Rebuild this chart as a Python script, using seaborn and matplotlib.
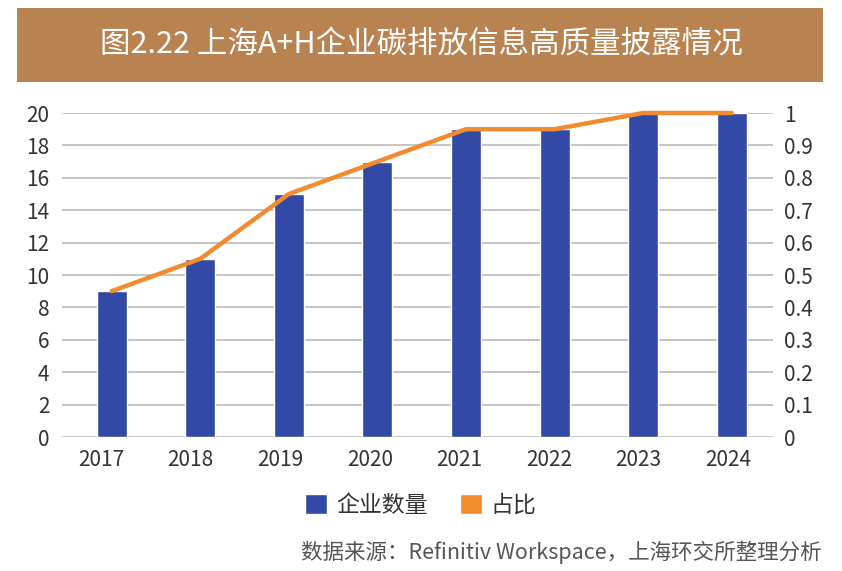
import numpy as np
import pandas as pd
import matplotlib
matplotlib.use("Agg")
import matplotlib.pyplot as plt
from matplotlib.patches import Patch, Rectangle
import seaborn as sns

# data
years = ["2017", "2018", "2019", "2020", "2021", "2022", "2023", "2024"]
counts = [9, 11, 15, 17, 19, 19, 20, 20]
ratio = [0.45, 0.55, 0.75, 0.85, 0.95, 0.95, 1.0, 1.0]

title = "图2.22 上海A+H企业碳排放信息高质量披露情况"
source = "数据来源：Refinitiv Workspace，上海环交所整理分析"

blue = "#3349A6"
orange = "#F28A30"
grid_c = "#BFBFBF"
text_c = "#333333"

sns.set_theme(style="white")
plt.rcParams["font.family"] = ["Noto Sans CJK SC", "DejaVu Sans"]

df = pd.DataFrame({"year": years, "count": counts, "ratio": ratio})

fig = plt.figure(figsize=(8.42, 5.71), dpi=100)
ax = fig.add_axes([62 / 842, 1 - 437 / 571, (773 - 62) / 842, (437 - 113) / 571])

sns.barplot(data=df, x="year", y="count", color=blue, width=0.34,
            saturation=1, ax=ax)
ax.set_xlim(-0.561, 7.466)
ax.set_ylim(0, 20)
ax.set_yticks(range(0, 21, 2))
# category labels sit a little left of the bars, like the original
n = len(years)
ax.set_xticks(np.arange(n) * 1.011 - 0.12)
ax.set_xticklabels(years)
ax.yaxis.grid(True, color=grid_c, linewidth=1.3)
ax.set_axisbelow(True)
for s in ax.spines.values():
    s.set_visible(False)
ax.set_xlabel("")
ax.set_ylabel("")
ax.tick_params(axis="y", labelsize=15, colors=text_c, pad=9, length=0)
ax.tick_params(axis="x", labelsize=15, colors=text_c, pad=9, length=0)

ax2 = ax.twinx()
sns.lineplot(x=np.arange(n), y=df["ratio"], color=orange,
             linewidth=3.2, ax=ax2, clip_on=False)
ax2.set_ylim(0, 1)
ax2.set_yticks(np.arange(0, 1.01, 0.1))
ax2.set_yticklabels(["0", "0.1", "0.2", "0.3", "0.4", "0.5", "0.6", "0.7",
                     "0.8", "0.9", "1"])
ax2.set_ylabel("")
ax2.grid(False)
for s in ax2.spines.values():
    s.set_visible(False)
ax2.tick_params(axis="y", labelsize=15, colors=text_c, pad=8, length=0)

# title banner
fig.patches.append(Rectangle((17 / 842, 1 - 82 / 571), (823 - 17) / 842, 74 / 571,
                             transform=fig.transFigure, facecolor="#B98251",
                             edgecolor="none", zorder=0))
fig.text(0.5, 1 - 44 / 571, title, ha="center", va="center", fontsize=22,
         color="white", fontweight="light")

handles = [Patch(facecolor=blue, label="企业数量"),
           Patch(facecolor=orange, label="占比")]
fig.legend(handles=handles, loc="center", bbox_to_anchor=(0.5, 1 - 505 / 571),
           ncol=2, frameon=False, fontsize=16.5, handlelength=0.95,
           handleheight=0.95, handletextpad=0.4, columnspacing=1.4,
           labelcolor=text_c)

fig.text(822 / 842, 1 - 552 / 571, source, ha="right", va="center",
         fontsize=15.5, color="#555555")

fig.savefig("out.png", dpi=100)
